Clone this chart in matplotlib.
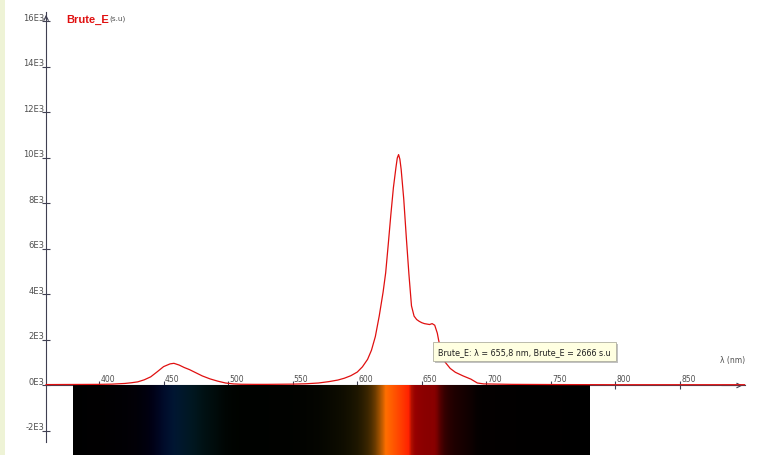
import matplotlib.pyplot as plt
import numpy as np
from matplotlib import patheffects
from matplotlib.patches import Rectangle

# spectrum (nm, s.u)
wavelength = [359, 380, 400, 410, 420, 425, 430, 435, 440, 445, 450, 455, 458,
              462, 466, 470, 475, 480, 486, 492, 498, 504, 510, 520, 530, 540,
              550, 560, 570, 578, 585, 590, 595, 600, 604, 608, 611, 614, 617,
              620, 622, 624, 626, 628, 630, 631, 632, 633, 634, 636, 638, 640, 642, 644,
              646, 648, 650, 652, 654, 656, 658, 660, 662, 663, 665, 668, 672,
              676, 682, 688, 693, 698, 720, 760, 800, 850, 900]
intensity = [40, 45, 50, 60, 90, 120, 160, 250, 380, 600, 830, 950, 975,
             900, 790, 700, 560, 420, 290, 190, 110, 70, 55, 50, 50, 55,
             60, 75, 110, 170, 240, 320, 430, 590, 820, 1150, 1550, 2150, 3050,
             4100, 4950, 6200, 7500, 8700, 9600, 10000, 10150, 9950, 9500, 8200, 6500, 4900, 3500, 3050,
             2900, 2820, 2760, 2720, 2700, 2680, 2720, 2650, 2300, 2000, 1500, 1030, 750,
             580, 420, 280, 110, 70, 50, 40, 35, 35, 35]

x_ticks = [400, 450, 500, 550, 600, 650, 700, 750, 800, 850]
y_ticks = [-2000, 0, 2000, 4000, 6000, 8000, 10000, 12000, 14000, 16000]
y_tick_labels = ['-2E3', '0E3', '2E3', '4E3', '6E3', '8E3', '10E3', '12E3', '14E3', '16E3']

series_name = 'Brute_E'
cursor_nm = 655.8
cursor_value = 2666

axis_color = '#404052'
label_color = '#505050'
line_color = '#e01010'


def spectrum_rgb(lam):
    "Approximate colour of visible light (Bruton)"
    lam = np.asarray(lam, float)
    r = np.zeros_like(lam); g = np.zeros_like(lam); b = np.zeros_like(lam)
    m = (lam >= 380) & (lam < 440); r[m] = -(lam[m] - 440) / 60; b[m] = 1
    m = (lam >= 440) & (lam < 490); g[m] = (lam[m] - 440) / 50; b[m] = 1
    m = (lam >= 490) & (lam < 510); g[m] = 1; b[m] = -(lam[m] - 510) / 20
    m = (lam >= 510) & (lam < 580); r[m] = (lam[m] - 510) / 70; g[m] = 1
    m = (lam >= 580) & (lam < 645); r[m] = 1; g[m] = -(lam[m] - 645) / 65
    m = (lam >= 645) & (lam <= 780); r[m] = 1
    f = np.ones_like(lam)
    m = lam < 420; f[m] = 0.3 + 0.7 * (lam[m] - 380) / 40
    m = lam > 700; f[m] = 0.3 + 0.7 * (780 - lam[m]) / 80
    rgb = np.stack([r, g, b], axis=-1) ** 0.8
    return rgb * f[:, None]


fig = plt.figure(figsize=(7.65, 4.56), dpi=100)
fig.patches.append(Rectangle((0, 0), 5 / 765, 1, transform=fig.transFigure,
                             facecolor='#eef3d6', edgecolor='none', zorder=0))
ax = fig.add_axes([0, 0, 1, 1])
ax.set_facecolor('none')
ax.set_xlim(323.3, 915.8)
ax.set_ylim(-3055, 16989)

# colour strip under the axis, brightness follows the measured intensity
lam_strip = np.linspace(380, 780, 520)
bright = np.clip(np.interp(lam_strip, wavelength, intensity) / 5000, 0, 1)
strip = spectrum_rgb(lam_strip) * bright[:, None]
ax.imshow(strip[None, :, :], extent=(380, 780, -3055, 0), aspect='auto',
          interpolation='bilinear', zorder=3)

# axes through (359, 0)
for s in ['right', 'top']:
    ax.spines[s].set_visible(False)
ax.spines['left'].set_position(('data', 359))
ax.spines['bottom'].set_position(('data', 0))
ax.spines['left'].set_bounds(-2500, 16420)
ax.spines['bottom'].set_bounds(359, 900)
for s in ['left', 'bottom']:
    ax.spines[s].set_color(axis_color)
    ax.spines[s].set_linewidth(0.8)
ax.set_xticks(x_ticks)
ax.set_yticks(y_ticks)
ax.tick_params(direction='inout', color=axis_color, width=0.8, length=6,
               labelbottom=False, labelleft=False)
ax.annotate('', xy=(359, 16420), xytext=(359, 16000),
            arrowprops=dict(arrowstyle='->', color=axis_color, lw=0.8, mutation_scale=8))
ax.annotate('', xy=(900.5, 0), xytext=(880, 0),
            arrowprops=dict(arrowstyle='->', color=axis_color, lw=0.8, mutation_scale=8))

for t in x_ticks:
    ax.annotate(str(t), xy=(t, 0), xytext=(0.8, 3), textcoords='offset points',
                ha='left', va='baseline', fontsize=5.5, color=label_color)
for t, lab in zip(y_ticks, y_tick_labels):
    ax.annotate(lab, xy=(359, t), xytext=(-1.4, 1.4), textcoords='offset points',
                ha='right', va='baseline', fontsize=6, color=label_color)

ax.plot(wavelength, intensity, color=line_color, lw=0.9, zorder=4)

fig.text(66 / 765, 1 - 23 / 456, series_name, color=line_color, fontsize=8,
         fontweight='bold', family='Liberation Sans', va='baseline')
fig.text(109 / 765, 1 - 20 / 456, '(s.u)', color=label_color, fontsize=5.2, va='baseline')
fig.text(745 / 765, 1 - 361 / 456, 'λ (nm)', color=label_color, fontsize=5.5,
         ha='right', va='center')

tip = ax.annotate('%s: λ = %s nm, %s = %d s.u' % (series_name, str(cursor_nm).replace('.', ','),
                                                  series_name, cursor_value),
                  xy=(cursor_nm, cursor_value), xytext=(6.5, -16), textcoords='offset points',
                  ha='left', va='top', fontsize=5.8, color='#202020', zorder=6,
                  bbox=dict(boxstyle='square,pad=0.65', fc='#ffffe1', ec='#b0b0a0', lw=0.6))
tip.get_bbox_patch().set_path_effects([
    patheffects.SimplePatchShadow(offset=(1.5, -1.5), shadow_rgbFace='#999999', alpha=0.6),
    patheffects.Normal()])

fig.savefig('out.png', dpi=100)
